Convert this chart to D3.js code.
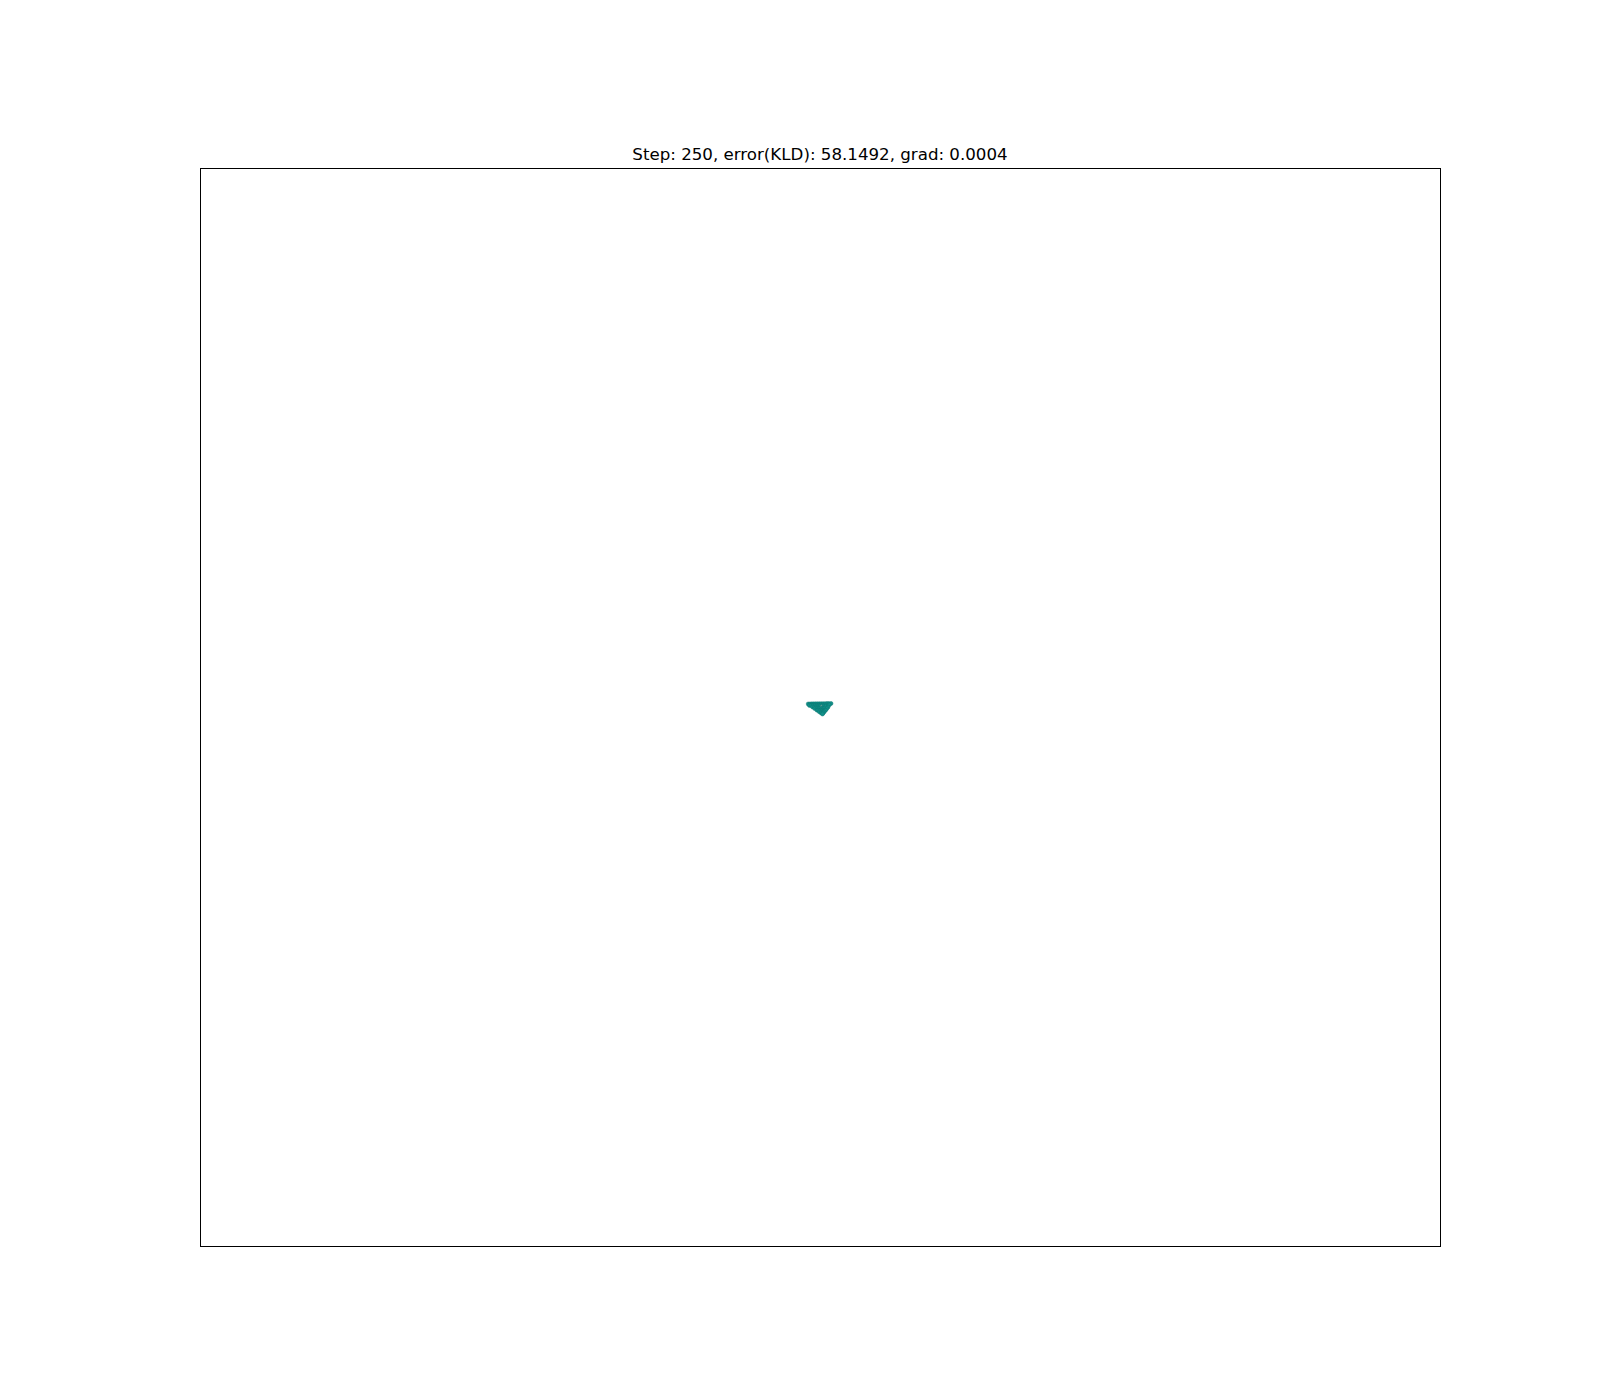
<!DOCTYPE html>
<html>
<head>
<meta charset="utf-8">
<script src="https://cdn.jsdelivr.net/npm/d3@7"></script>
<style>
html,body{margin:0;padding:0;background:#fff;}
</style>
</head>
<body>
<script>
const titleText = "Step: 250, error(KLD): 58.1492, grad: 0.0004";
const xDomain = [-10, 10];
const yDomain = [-10, 10];
const pointsX = [-0.19,-0.16,-0.13,-0.10,-0.07,-0.04,-0.01,0.02,0.05,0.08,0.11,0.14,0.177,
  -0.17,-0.14,-0.11,-0.08,-0.05,-0.02,0.01,0.04,0.07,0.10,0.13,0.15,
  -0.12,-0.09,-0.06,-0.03,0.00,0.03,0.06,0.09,0.13,
  -0.084,-0.05,-0.02,0.01,0.04,0.07,0.11,
  -0.047,-0.02,0.01,0.04,0.07,0.09,
  -0.01,0.02,0.045,0.068,
  0.02,0.05,0.04];
const pointsY = [0.056,0.057,0.058,0.058,0.059,0.06,0.06,0.061,0.062,0.062,0.063,0.064,0.065,
  0.03,0.03,0.031,0.032,0.032,0.033,0.034,0.034,0.035,0.035,0.036,0.04,
  0.0,0.0,0.002,0.002,0.003,0.003,0.004,0.004,0.0,
  -0.03,-0.03,-0.029,-0.028,-0.028,-0.027,-0.03,
  -0.06,-0.06,-0.058,-0.058,-0.057,-0.06,
  -0.09,-0.09,-0.088,-0.09,
  -0.11,-0.11,-0.13];
const markerColor = ["#12918a","#12918a","#12918a","#12918a","#12918a","#12918a","#12918a","#12918a","#12918a","#12918a","#12918a","#12918a","#12918a",
  "#12918a","#12918a","#12918a","#12918a","#12918a","#12918a","#12918a","#12918a","#12918a","#12918a","#12918a","#12918a",
  "#12918a","#12918a","#12918a","#12918a","#12918a","#7fa6a3","#12918a","#12918a","#12918a",
  "#12918a","#12918a","#12918a","#12918a","#12918a","#12918a","#12918a",
  "#12918a","#12918a","#12918a","#12918a","#12918a","#12918a",
  "#12918a","#12918a","#12918a","#12918a",
  "#12918a","#12918a","#12918a"];

const W = 1600, H = 1400;
const m = {left:200, right:160, top:168, bottom:154};
const svg = d3.select("body").append("svg").attr("width", W).attr("height", H);
const x = d3.scaleLinear().domain(xDomain).range([m.left, W - m.right]);
const y = d3.scaleLinear().domain(yDomain).range([H - m.bottom, m.top]);

const pts = pointsX.map((v,i)=>({x:v, y:pointsY[i], c:markerColor[i]}));
svg.append("g").selectAll("circle").data(pts).join("circle")
  .attr("cx", d=>x(d.x)).attr("cy", d=>y(d.y)).attr("r", 2)
  .attr("fill", d=>d.c).attr("stroke", "#0b7771").attr("stroke-width", 0.5);

svg.append("rect").attr("x", m.left + 0.5).attr("y", m.top + 0.5)
  .attr("width", W - m.left - m.right).attr("height", H - m.top - m.bottom)
  .attr("fill", "none").attr("stroke", "#000").attr("stroke-width", 1);

svg.append("text").attr("x", (m.left + W - m.right)/2).attr("y", m.top - 8)
  .attr("text-anchor", "middle").attr("font-family", "DejaVu Sans").attr("font-size", 16.67)
  .attr("fill", "#000").text(titleText);
</script>
</body>
</html>
